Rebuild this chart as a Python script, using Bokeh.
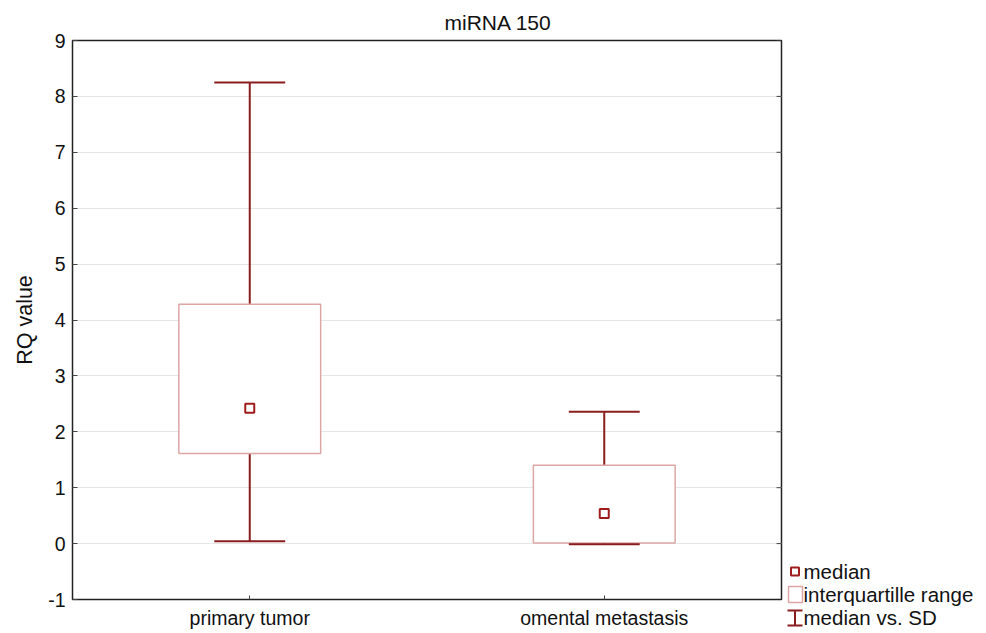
from bokeh.plotting import figure
from bokeh.models import Range1d, FixedTicker
from bokeh.layouts import row
from bokeh.embed import file_html
from bokeh.resources import INLINE
from bokeh.core.properties import value

# ---- data ----
categories = ["primary tumor", "omental metastasis"]
positions = [1, 2]
median = [2.42, 0.54]
q1 = [1.61, 0.01]
q3 = [4.28, 1.40]
sd_low = [0.04, -0.01]
sd_high = [8.25, 2.36]
y_ticks = list(range(-1, 10))
legend_labels = ["median", "interquartille range", "median vs. SD"]

FONT = "Liberation Sans"
DARK = "#8A1E1E"
PINK = "#DDA6A6"
BOX_HALF = 0.2
CAP_HALF = 0.1
X0, X1 = 0.5, 2.5
FRAME_W = 709

p = figure(width=785, height=633, x_range=Range1d(X0, X1), y_range=Range1d(-1, 9),
           output_backend="svg", toolbar_location=None,
           min_border_left=72, min_border_right=4, min_border_top=40, min_border_bottom=34)
p.frame_align = False

p.title.text = "miRNA 150"
p.title.align = "left"
p.title.offset = 372
p.title.standoff = 13
p.title.text_font = FONT
p.title.text_font_size = "21px"
p.title.text_font_style = "normal"
p.title.text_color = "#111111"

p.outline_line_color = "#222222"
p.outline_line_width = 1.5
p.background_fill_color = "white"
p.border_fill_color = "white"

p.xgrid.grid_line_color = None
p.ygrid.grid_line_color = "#e6e6e6"
p.ygrid.ticker = FixedTicker(ticks=y_ticks)

# y axis
ya = p.yaxis[0]
ya.ticker = FixedTicker(ticks=y_ticks)
ya.major_label_overrides = {t: str(t) for t in y_ticks}
ya.axis_label = "RQ value"
ya.axis_label_text_font = FONT
ya.axis_label_text_font_size = "21.5px"
ya.axis_label_text_font_style = "normal"
ya.axis_label_text_color = "#111111"
ya.axis_label_standoff = 8
ya.major_label_text_font = FONT
ya.major_label_text_font_size = "19.5px"
ya.major_label_text_color = "#111111"
ya.major_label_standoff = 7
ya.major_tick_in = 5
ya.major_tick_out = 0
ya.minor_tick_line_color = None
ya.axis_line_color = "#222222"
ya.major_tick_line_color = "#444444"

# x axis
xa = p.xaxis[0]
xa.ticker = FixedTicker(ticks=positions)
xa.major_label_overrides = {pos: cat for pos, cat in zip(positions, categories)}
xa.major_label_text_font = FONT
xa.major_label_text_font_size = "19.5px"
xa.major_label_text_color = "#111111"
xa.major_label_standoff = 7
xa.major_tick_in = 4
xa.major_tick_out = 0
xa.minor_tick_line_color = None
xa.axis_line_color = "#222222"
xa.major_tick_line_color = "#444444"

# inward ticks on the right frame edge
tick_len = 5 * (X1 - X0) / FRAME_W
p.segment(x0=[X1 - tick_len] * len(y_ticks), x1=[X1] * len(y_ticks), y0=y_ticks, y1=y_ticks,
          line_color="#444444", line_width=1)

# stems
p.segment(x0=positions, y0=sd_low, x1=positions, y1=sd_high, line_color=DARK, line_width=2)
# boxes
p.quad(left=[x - BOX_HALF for x in positions], right=[x + BOX_HALF for x in positions],
       bottom=q1, top=q3, fill_color="white", line_color=PINK, line_width=1.5)
# caps
p.segment(x0=[x - CAP_HALF for x in positions], x1=[x + CAP_HALF for x in positions],
          y0=sd_high, y1=sd_high, line_color=DARK, line_width=2)
p.segment(x0=[x - CAP_HALF for x in positions], x1=[x + CAP_HALF for x in positions],
          y0=sd_low, y1=sd_low, line_color=DARK, line_width=2)
# medians
p.scatter(x=positions, y=median, marker="square", size=9, fill_color="white",
          line_color="#A01C1C", line_width=2)

# ---- legend panel (separate figure, page-pixel coordinates) ----
lg = figure(width=201, height=633, x_range=Range1d(785, 986), y_range=Range1d(633, 0),
            output_backend="svg", toolbar_location=None,
            min_border_left=0, min_border_right=0, min_border_top=0, min_border_bottom=0)
lg.frame_align = False
lg.axis.visible = False
lg.grid.visible = False
lg.outline_line_color = None

ly = [571, 594, 617]
lg.scatter(x=[794.5], y=[ly[0]], marker="square", size=8, fill_color="white",
           line_color="#A01C1C", line_width=2)
lg.quad(left=[788], right=[802], top=[ly[1] - 8], bottom=[ly[1] + 8],
        fill_color="white", line_color=PINK, line_width=1.5)
lg.segment(x0=[794.5], x1=[794.5], y0=[ly[2] - 7], y1=[ly[2] + 8], line_color=DARK, line_width=2)
lg.segment(x0=[787, 787], x1=[802, 802], y0=[ly[2] - 7, ly[2] + 8], y1=[ly[2] - 7, ly[2] + 8],
           line_color=DARK, line_width=2)
lg.text(x=[803, 803, 803], y=ly, text=legend_labels, text_font=value(FONT),
        text_font_size="20.5px", text_baseline="middle", text_color="#111111")

layout = row(p, lg)
open("out.html", "w").write(file_html(layout, INLINE))
